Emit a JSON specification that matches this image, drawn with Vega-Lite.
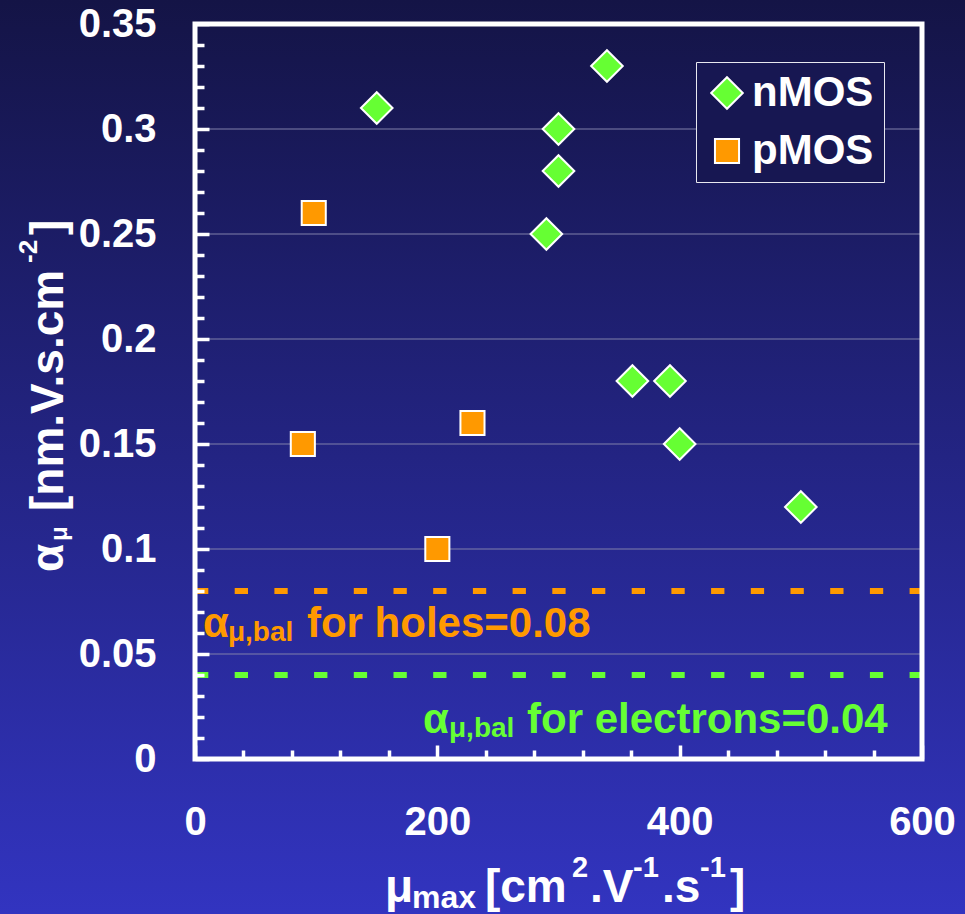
{
  "$schema": "https://vega.github.io/schema/vega-lite/v6.json",
  "autosize": {"type": "none"},
  "padding": {"left": 195, "top": 24, "right": 43, "bottom": 155},
  "width": 727,
  "height": 735,
  "background": "#232385",
  "view": {"stroke": null},
  "config": {
    "font": "Liberation Sans",
    "text": {"font": "Liberation Sans", "fontWeight": "bold"}
  },
  "datasets": {
    "points": [
      {"mu": 150, "alpha": 0.31, "type": "nMOS"},
      {"mu": 300, "alpha": 0.30, "type": "nMOS"},
      {"mu": 300, "alpha": 0.28, "type": "nMOS"},
      {"mu": 290, "alpha": 0.25, "type": "nMOS"},
      {"mu": 340, "alpha": 0.33, "type": "nMOS"},
      {"mu": 361, "alpha": 0.18, "type": "nMOS"},
      {"mu": 392, "alpha": 0.18, "type": "nMOS"},
      {"mu": 400, "alpha": 0.15, "type": "nMOS"},
      {"mu": 500, "alpha": 0.12, "type": "nMOS"},
      {"mu": 98, "alpha": 0.26, "type": "pMOS"},
      {"mu": 89, "alpha": 0.15, "type": "pMOS"},
      {"mu": 229, "alpha": 0.16, "type": "pMOS"},
      {"mu": 200, "alpha": 0.10, "type": "pMOS"}
    ],
    "grid": [{"g": 0.05}, {"g": 0.10}, {"g": 0.15}, {"g": 0.20}, {"g": 0.25}, {"g": 0.30}],
    "holesMain": [{"t": "α", "x": 6.6, "y": 0.0581}, {"t": "for holes=0.08", "x": 92.4, "y": 0.0581}],
    "holesSub": [{"t": "μ,bal", "x": 27.2, "y": 0.0562}],
    "elecMain": [{"t": "α", "x": 188.2, "y": 0.01238}, {"t": "for electrons=0.04", "x": 274.0, "y": 0.01238}],
    "elecSub": [{"t": "μ,bal", "x": 209.6, "y": 0.01048}],
    "xtMain": [
      {"t": "μ", "x": 156.8, "y": -0.0681},
      {"t": "[cm", "x": 239.3, "y": -0.0681},
      {"t": ".V", "x": 326.0, "y": -0.0681},
      {"t": ".s", "x": 385.4, "y": -0.0681},
      {"t": "]", "x": 441.6, "y": -0.0681}
    ],
    "xtSub": [{"t": "max", "x": 179.1, "y": -0.07095}],
    "xtSup": [
      {"t": "2", "x": 311.1, "y": -0.05619},
      {"t": "-1", "x": 361.5, "y": -0.05619},
      {"t": "-1", "x": 416.8, "y": -0.05619}
    ],
    "ytMain": [
      {"t": "α", "x": -108.9, "y": 0.08905},
      {"t": "[nm.V.s.cm", "x": -108.9, "y": 0.1181},
      {"t": "]", "x": -108.9, "y": 0.24952}
    ],
    "ytSub": [{"t": "μ", "x": -105.6, "y": 0.10381}],
    "ytSup": [{"t": "-2", "x": -130.4, "y": 0.2362}]
  },
  "layer": [
    {
      "data": {"values": [{}]},
      "mark": {
        "type": "rect",
        "fill": {
          "gradient": "linear", "x1": 0, "y1": 0, "x2": 0, "y2": 1,
          "stops": [
            {"offset": 0, "color": "#141446"},
            {"offset": 1, "color": "#3234c0"}
          ]
        }
      },
      "encoding": {
        "x": {"datum": -161, "type": "quantitative", "scale": {"domain": [0, 600], "nice": false}},
        "x2": {"datum": 636},
        "y": {"datum": -0.0739, "type": "quantitative", "scale": {"domain": [0, 0.35], "nice": false}},
        "y2": {"datum": 0.3615}
      }
    },
    {
      "data": {"name": "grid"},
      "mark": {"type": "rule", "color": "#8080aa", "strokeWidth": 1},
      "encoding": {
        "x": {"datum": 0, "type": "quantitative"},
        "x2": {"datum": 600},
        "y": {"field": "g", "type": "quantitative"}
      }
    },
    {
      "data": {"values": [{}]},
      "mark": {"type": "rule", "color": "#FF9900", "strokeWidth": 6, "strokeDash": [13.3, 26.4]},
      "encoding": {
        "x": {"datum": 0, "type": "quantitative"},
        "x2": {"datum": 600},
        "y": {"datum": 0.08, "type": "quantitative"}
      }
    },
    {
      "data": {"values": [{}]},
      "mark": {"type": "rule", "color": "#66FF33", "strokeWidth": 6, "strokeDash": [13.3, 26.4]},
      "encoding": {
        "x": {"datum": 0, "type": "quantitative"},
        "x2": {"datum": 600},
        "y": {"datum": 0.04, "type": "quantitative"}
      }
    },
    {
      "data": {"name": "points"},
      "mark": {"type": "point", "filled": true, "opacity": 1, "stroke": "white", "strokeWidth": 2},
      "encoding": {
        "x": {
          "field": "mu", "type": "quantitative",
          "scale": {"domain": [0, 600], "nice": false},
          "axis": {
            "title": null,
            "values": [0, 40, 80, 120, 160, 200, 240, 280, 320, 360, 400, 440, 480, 520, 560, 600],
            "tickCount": 30,
            "domain": false,
            "grid": false,
            "zindex": 1,
            "ticks": true,
            "tickColor": "white",
            "tickWidth": 3.5,
            "tickSize": {"condition": {"test": "datum.value % 200 == 0", "value": -14}, "value": -9},
            "labelExpr": "datum.value % 200 == 0 ? format(datum.value, 'd') : ''",
            "labelFlush": false,
            "labelOverlap": false,
            "labelFont": "Liberation Sans",
            "labelFontWeight": "bold",
            "labelFontSize": 40,
            "labelColor": "white",
            "labelPadding": 57
          }
        },
        "y": {
          "field": "alpha", "type": "quantitative",
          "scale": {"domain": [0, 0.35], "nice": false},
          "axis": {
            "title": null,
            "values": [0, 0.01, 0.02, 0.03, 0.04, 0.05, 0.06, 0.07, 0.08, 0.09, 0.1, 0.11, 0.12, 0.13, 0.14, 0.15, 0.16, 0.17, 0.18, 0.19, 0.2, 0.21, 0.22, 0.23, 0.24, 0.25, 0.26, 0.27, 0.28, 0.29, 0.3, 0.31, 0.32, 0.33, 0.34, 0.35],
            "tickCount": 60,
            "domain": false,
            "grid": false,
            "zindex": 1,
            "ticks": true,
            "tickColor": "white",
            "tickWidth": 3.5,
            "tickSize": {"condition": {"test": "round(datum.value * 100) % 5 == 0", "value": -14}, "value": -9},
            "labelExpr": "round(datum.value * 100) % 5 == 0 ? format(datum.value, '.2~f') : ''",
            "labelOverlap": false,
            "labelFont": "Liberation Sans",
            "labelFontWeight": "bold",
            "labelFontSize": 40,
            "labelColor": "white",
            "labelPadding": 53
          }
        },
        "color": {
          "field": "type", "type": "nominal",
          "scale": {"domain": ["nMOS", "pMOS"], "range": ["#66FF33", "#FF9900"]},
          "legend": {
            "title": null,
            "orient": "none",
            "legendX": 501,
            "legendY": 38,
            "fillColor": "#171752",
            "strokeColor": "#e8e8f0",
            "padding": 10,
            "rowPadding": 16,
            "labelOffset": 4,
            "labelFont": "Liberation Sans",
            "labelFontWeight": "bold",
            "labelFontSize": 42,
            "labelColor": "white",
            "symbolSize": 650,
            "symbolStrokeColor": "white",
            "symbolStrokeWidth": 2,
            "symbolOpacity": 1
          }
        },
        "shape": {
          "field": "type", "type": "nominal",
          "scale": {"domain": ["nMOS", "pMOS"], "range": ["diamond", "square"]}
        },
        "size": {
          "field": "type", "type": "ordinal",
          "scale": {"domain": ["nMOS", "pMOS"], "range": [1000, 580]},
          "legend": null
        }
      }
    },
    {
      "data": {"name": "holesMain"},
      "mark": {"type": "text", "align": "left", "baseline": "alphabetic", "fontSize": 42, "color": "#FF9900"},
      "encoding": {"x": {"field": "x", "type": "quantitative"}, "y": {"field": "y", "type": "quantitative"}, "text": {"field": "t"}}
    },
    {
      "data": {"name": "holesSub"},
      "mark": {"type": "text", "align": "left", "baseline": "alphabetic", "fontSize": 28, "color": "#FF9900"},
      "encoding": {"x": {"field": "x", "type": "quantitative"}, "y": {"field": "y", "type": "quantitative"}, "text": {"field": "t"}}
    },
    {
      "data": {"name": "elecMain"},
      "mark": {"type": "text", "align": "left", "baseline": "alphabetic", "fontSize": 42, "color": "#66FF33"},
      "encoding": {"x": {"field": "x", "type": "quantitative"}, "y": {"field": "y", "type": "quantitative"}, "text": {"field": "t"}}
    },
    {
      "data": {"name": "elecSub"},
      "mark": {"type": "text", "align": "left", "baseline": "alphabetic", "fontSize": 28, "color": "#66FF33"},
      "encoding": {"x": {"field": "x", "type": "quantitative"}, "y": {"field": "y", "type": "quantitative"}, "text": {"field": "t"}}
    },
    {
      "data": {"name": "xtMain"},
      "mark": {"type": "text", "align": "left", "baseline": "alphabetic", "fontSize": 46, "color": "white"},
      "encoding": {"x": {"field": "x", "type": "quantitative"}, "y": {"field": "y", "type": "quantitative"}, "text": {"field": "t"}}
    },
    {
      "data": {"name": "xtSub"},
      "mark": {"type": "text", "align": "left", "baseline": "alphabetic", "fontSize": 32, "color": "white"},
      "encoding": {"x": {"field": "x", "type": "quantitative"}, "y": {"field": "y", "type": "quantitative"}, "text": {"field": "t"}}
    },
    {
      "data": {"name": "xtSup"},
      "mark": {"type": "text", "align": "left", "baseline": "alphabetic", "fontSize": 29, "color": "white"},
      "encoding": {"x": {"field": "x", "type": "quantitative"}, "y": {"field": "y", "type": "quantitative"}, "text": {"field": "t"}}
    },
    {
      "data": {"name": "ytMain"},
      "mark": {"type": "text", "align": "left", "baseline": "alphabetic", "angle": 270, "fontSize": 46, "color": "white"},
      "encoding": {"x": {"field": "x", "type": "quantitative"}, "y": {"field": "y", "type": "quantitative"}, "text": {"field": "t"}}
    },
    {
      "data": {"name": "ytSub"},
      "mark": {"type": "text", "align": "left", "baseline": "alphabetic", "angle": 270, "fontSize": 24, "color": "white"},
      "encoding": {"x": {"field": "x", "type": "quantitative"}, "y": {"field": "y", "type": "quantitative"}, "text": {"field": "t"}}
    },
    {
      "data": {"name": "ytSup"},
      "mark": {"type": "text", "align": "left", "baseline": "alphabetic", "angle": 270, "fontSize": 26, "color": "white"},
      "encoding": {"x": {"field": "x", "type": "quantitative"}, "y": {"field": "y", "type": "quantitative"}, "text": {"field": "t"}}
    },
    {
      "data": {"values": [{}]},
      "mark": {"type": "rect", "fillOpacity": 0, "stroke": "white", "strokeWidth": 5},
      "encoding": {
        "x": {"datum": 0, "type": "quantitative"},
        "x2": {"datum": 600},
        "y": {"datum": 0, "type": "quantitative"},
        "y2": {"datum": 0.35}
      }
    }
  ]
}
